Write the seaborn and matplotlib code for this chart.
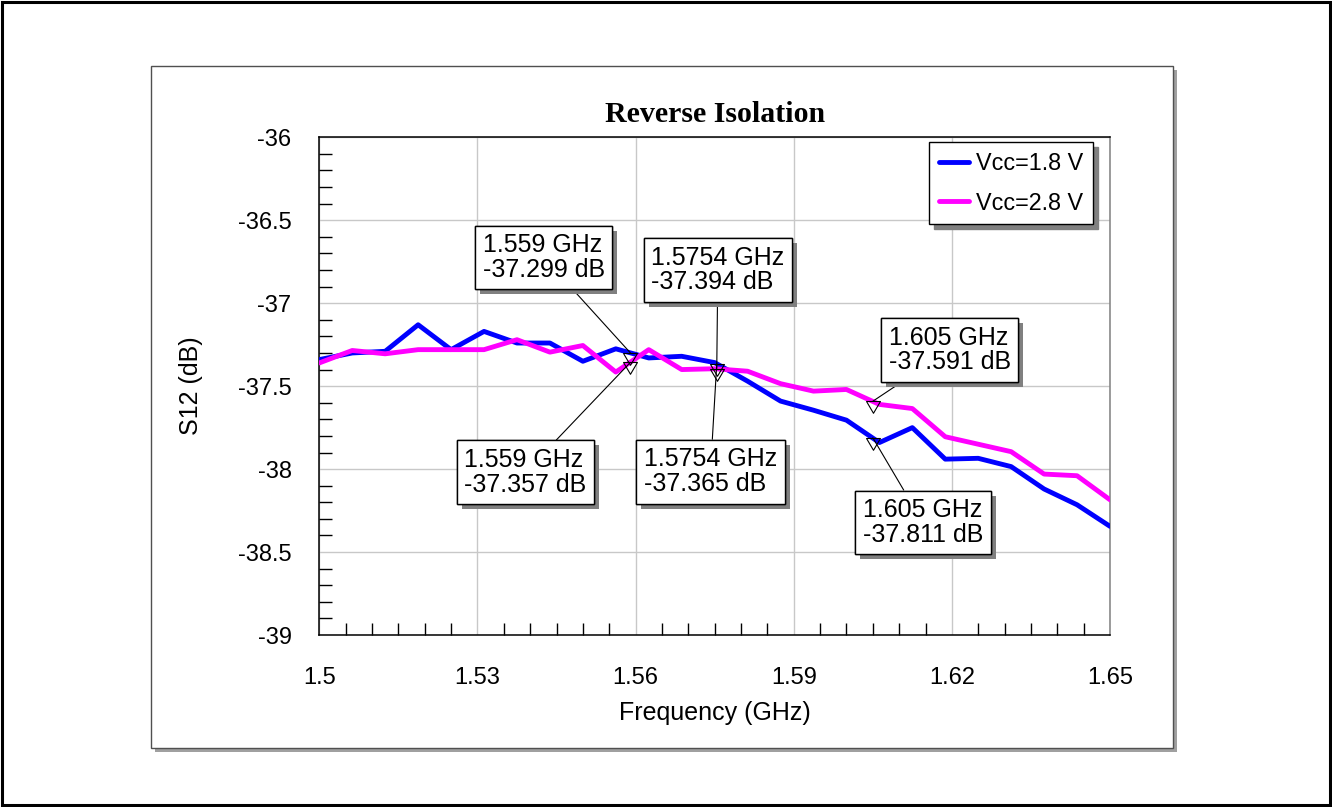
import numpy as np
import pandas as pd
import matplotlib
matplotlib.use("Agg")
import matplotlib.pyplot as plt
import matplotlib.patheffects as pe
from matplotlib.patches import Rectangle
from matplotlib.path import Path
from matplotlib.ticker import FixedLocator, MultipleLocator
import seaborn as sns

# Swept frequency points (GHz)
freq = [1.5, 1.50625, 1.5125, 1.51875, 1.525, 1.53125, 1.5375, 1.54375,
        1.55, 1.55625, 1.5625, 1.56875, 1.575, 1.58125, 1.5875, 1.59375,
        1.6, 1.60625, 1.6125, 1.61875, 1.625, 1.63125, 1.6375, 1.64375, 1.65]

# S12 (dB) at each bias
s12_vcc18 = [-37.34, -37.30, -37.29, -37.13, -37.28, -37.17, -37.24, -37.24,
             -37.35, -37.275, -37.33, -37.32, -37.358, -37.47, -37.59, -37.645,
             -37.705, -37.84, -37.75, -37.94, -37.935, -37.985, -38.12, -38.215,
             -38.345]
s12_vcc28 = [-37.36, -37.285, -37.305, -37.28, -37.28, -37.28, -37.22, -37.295,
             -37.255, -37.415, -37.28, -37.40, -37.395, -37.41, -37.485, -37.53,
             -37.52, -37.61, -37.635, -37.805, -37.85, -37.895, -38.03, -38.04,
             -38.185]

series_names = ["Vcc=1.8 V", "Vcc=2.8 V"]
series_colors = ["#0000ff", "#ff00ff"]

# Marker readouts
marker_freq = [1.559, 1.5754, 1.605]
marker_vcc18 = [-37.299, -37.365, -37.811]
marker_vcc28 = [-37.357, -37.394, -37.591]

x_ticks = [1.5, 1.53, 1.56, 1.59, 1.62, 1.65]
x_ticklabels = ["1.5", "1.53", "1.56", "1.59", "1.62", "1.65"]
y_ticks = [-36, -36.5, -37, -37.5, -38, -38.5, -39]
y_ticklabels = ["-36", "-36.5", "-37", "-37.5", "-38", "-38.5", "-39"]

sns.set_style("white")
plt.rcParams["font.family"] = ["Liberation Sans", "DejaVu Sans"]
plt.rcParams["axes.unicode_minus"] = False
plt.rcParams["text.color"] = "black"
plt.rcParams["axes.labelcolor"] = "black"
plt.rcParams["xtick.color"] = "black"
plt.rcParams["ytick.color"] = "black"

df = pd.DataFrame({
    "freq": freq * 2,
    "s12": s12_vcc18 + s12_vcc28,
    "series": [series_names[0]] * len(freq) + [series_names[1]] * len(freq),
})

fig = plt.figure(figsize=(13.32, 8.07), dpi=100)
fig.patch.set_facecolor("white")

# Framed panel with drop shadow behind the axes
px_w, px_h = 1332.0, 807.0
pl, pt, pr, pb = 151, 66, 1173, 748
fig.patches.append(Rectangle(((pl + 4) / px_w, 1 - (pb + 4) / px_h),
                             (pr - pl) / px_w, (pb - pt) / px_h,
                             transform=fig.transFigure, facecolor="#a0a0a0",
                             edgecolor="none", zorder=-3))
fig.patches.append(Rectangle((pl / px_w, 1 - pb / px_h),
                             (pr - pl) / px_w, (pb - pt) / px_h,
                             transform=fig.transFigure, facecolor="white",
                             edgecolor="#505050", lw=1.0, zorder=-2))
# Outer border of the figure
fig.patches.append(Rectangle((0.0012, 0.002), 0.9976, 0.996,
                             transform=fig.transFigure, fill=False,
                             edgecolor="black", lw=2.2, zorder=10))

ax = fig.add_axes([319.3 / px_w, 1 - 635 / px_h,
                   (1110 - 319.3) / px_w, (635 - 137.3) / px_h])

sns.lineplot(data=df, x="freq", y="s12", hue="series",
             palette=dict(zip(series_names, series_colors)),
             lw=3.5, ax=ax, zorder=3, legend=True)

ax.set_xlim(1.5, 1.65)
ax.set_ylim(-39, -36)
ax.xaxis.set_major_locator(FixedLocator(x_ticks))
ax.set_xticklabels(x_ticklabels)
ax.yaxis.set_major_locator(FixedLocator(y_ticks))
ax.set_yticklabels(y_ticklabels)
ax.xaxis.set_minor_locator(MultipleLocator(0.005))
ax.yaxis.set_minor_locator(MultipleLocator(0.1))

ax.tick_params(axis="both", which="both", bottom=True, left=True,
               top=False, right=False)
ax.tick_params(axis="both", which="major", length=0, labelsize=17)
ax.tick_params(axis="x", which="major", pad=23)
ax.tick_params(axis="y", which="major", pad=20)
ax.tick_params(axis="both", which="minor", direction="in", length=9,
               width=1.0, color="black")

ax.grid(True, which="major", color="#c8c8c8", lw=1.0)
ax.set_axisbelow(True)

for side in ["left", "bottom", "top"]:
    ax.spines[side].set_color("black")
    ax.spines[side].set_linewidth(1.1)
ax.spines["right"].set_color("#808080")
ax.spines["right"].set_linewidth(1.1)

ax.set_xlabel("Frequency (GHz)", fontsize=18, labelpad=9)
ax.set_ylabel("S12 (dB)", fontsize=18, labelpad=25)
ax.set_title("Reverse Isolation", fontsize=21.5, fontweight="bold",
             family=["Liberation Serif", "DejaVu Serif"], pad=11)

handles, labels = ax.get_legend_handles_labels()
leg = ax.legend(handles, labels, loc="upper right",
                bbox_to_anchor=(0.9785, 0.9906), borderaxespad=0,
                fontsize=16.8, frameon=True, fancybox=False,
                handlelength=1.3, handletextpad=0.3, labelspacing=0.72,
                borderpad=0.42,
                shadow={"ox": 3.6, "oy": -3.6, "color": "#808080", "alpha": 1.0})
leg.get_frame().set_edgecolor("black")
leg.get_frame().set_linewidth(1.0)
leg.set_zorder(6)

# Downward triangle whose top edge sits on the data point
tri = Path([(-1.0, 0.0), (1.0, 0.0), (0.0, -1.7), (-1.0, 0.0)],
           [Path.MOVETO, Path.LINETO, Path.LINETO, Path.CLOSEPOLY])

ax.plot(marker_freq, marker_vcc18, ls="none", marker=tri, ms=17,
        mfc="none", mec="black", mew=0.8, zorder=5)
ax.plot(marker_freq, marker_vcc28, ls="none", marker=tri, ms=17,
        mfc="none", mec="black", mew=0.8, zorder=5)

# Readout box placement (data coordinates of each box centre)
box_vcc18 = [(1.5426, -36.7245), (1.5742, -38.0157), (1.6145, -38.322)]
box_vcc28 = [(1.5391, -38.020), (1.5756, -36.80), (1.6196, -37.282)]


def readout(f, v, pos):
    ann = ax.annotate(f"{f:g} GHz\n{v:.3f} dB", xy=(f, v), xytext=pos,
                      textcoords="data", ha="center", va="center",
                      multialignment="left", fontsize=18, zorder=7,
                      linespacing=1.05,
                      bbox=dict(boxstyle="square,pad=0.3", fc="white",
                                ec="black", lw=1.0),
                      arrowprops=dict(arrowstyle="-", color="black", lw=0.8,
                                      shrinkA=0, shrinkB=0))
    ann.get_bbox_patch().set_path_effects(
        [pe.withSimplePatchShadow(offset=(3.6, -3.6),
                                  shadow_rgbFace="#808080", alpha=1.0),
         pe.Normal()])
    return ann


for f, v, pos in zip(marker_freq, marker_vcc18, box_vcc18):
    readout(f, v, pos)
for f, v, pos in zip(marker_freq, marker_vcc28, box_vcc28):
    readout(f, v, pos)

fig.savefig("out.png", dpi=100, facecolor="white")
